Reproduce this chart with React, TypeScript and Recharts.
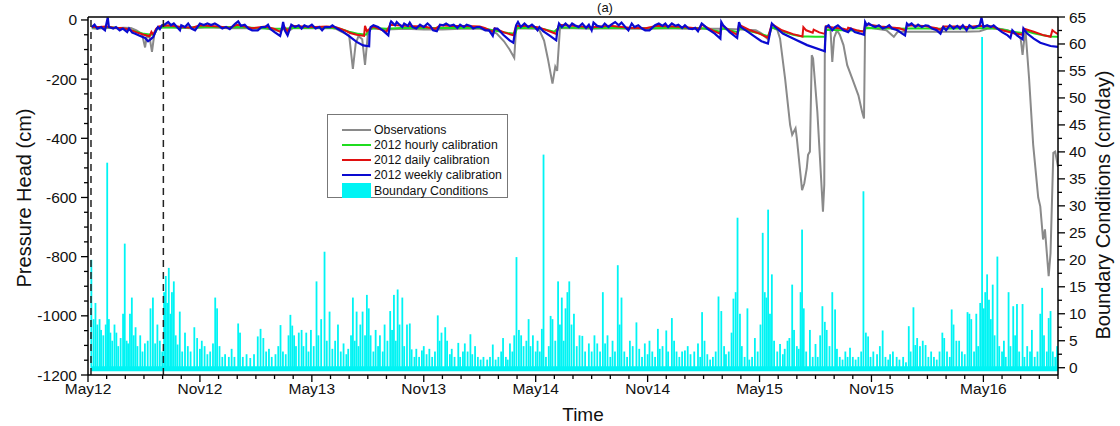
import { ComposedChart, Line, Bar, XAxis, YAxis, ReferenceLine, ReferenceArea } from 'recharts';

const FONT = '"Liberation Sans", Arial, Helvetica, sans-serif';

// x = months counted from 1 May 2012
const xTickLabels = ['May12', 'Nov12', 'May13', 'Nov13', 'May14', 'Nov14', 'May15', 'Nov15', 'May16'];
const monthTicks = Array.from({ length: 53 }, (_, i) => i);
const headTicks = Array.from({ length: 25 }, (_, i) => -1200 + i * 50);
const bcTicks = Array.from({ length: 27 }, (_, i) => i * 2.5);
const calibrationWindow = [0.16, 4.04];

// [month, pressure head cm]
const observations: [number, number][] = [
  [0.2, -28], [0.5, -30], [1.0, -26], [1.5, -28], [1.9, -26], [2.3, -27], [2.6, -35], [2.9, -48], [3.06, -93],
  [3.15, -55], [3.3, -58], [3.43, -108], [3.55, -50], [3.7, -30], [3.85, -25], [4.5, -24], [5.5, -28], [6.5, -25],
  [7.5, -28], [8.5, -28], [9.5, -28], [10.3, -38], [10.5, -28], [10.7, -40], [11.0, -27], [12.0, -28], [13.0, -27],
  [13.3, -30], [13.6, -40], [14.0, -52], [14.2, -165], [14.35, -80], [14.5, -55], [14.7, -65], [14.85, -152],
  [15.0, -50], [15.15, -28], [16.0, -32], [17.0, -30], [18.0, -32], [19.0, -32], [20.0, -30], [21.0, -30],
  [21.4, -35], [21.9, -45], [22.3, -72], [22.6, -100], [22.85, -128], [22.95, -28], [24.0, -30], [24.2, -35],
  [24.45, -70], [24.65, -130], [24.9, -215], [25.05, -158], [25.15, -172], [25.3, -28], [26.0, -28], [27.0, -30],
  [28.0, -28], [29.0, -30], [30.0, -30], [31.0, -28], [32.0, -30], [33.0, -30], [34.0, -30], [35.0, -32],
  [35.8, -35], [36.1, -45], [36.45, -65], [36.66, -25], [36.95, -33], [37.1, -63], [37.37, -198], [37.64, -355],
  [37.75, -388], [37.93, -366], [38.0, -400], [38.28, -575], [38.4, -552], [38.53, -502], [38.6, -456],
  [38.7, -445], [38.8, -119], [38.87, -130], [39.1, -311], [39.3, -535], [39.4, -648], [39.47, -557], [39.5, -85],
  [39.57, -24], [39.8, -28], [39.9, -142], [40.0, -60], [40.15, -35], [40.3, -50], [40.5, -85], [40.7, -153],
  [40.97, -198], [41.3, -255], [41.5, -311], [41.6, -333], [41.66, -24], [42.0, -27], [42.8, -35], [43.2, -57],
  [43.4, -40], [44.0, -40], [45.0, -40], [46.0, -40], [47.0, -40], [47.8, -38], [48.2, -30], [48.7, -28],
  [49.3, -35], [49.8, -50], [50.0, -63], [50.1, -118], [50.25, -30], [50.45, -198], [50.67, -422], [50.94, -600],
  [51.05, -630], [51.2, -742], [51.3, -708], [51.5, -866], [51.6, -788], [51.75, -449], [51.85, -445], [52.0, -496],
];

const hourly: [number, number][] = [
  [0.2, -25], [1.0, -24], [1.8, -28], [2.4, -36], [3.0, -47], [3.4, -50], [3.55, -48], [3.7, -30], [4.0, -25],
  [5.0, -26], [6.0, -24], [7.0, -25], [8.0, -24], [9.0, -27], [10.0, -30], [10.5, -30], [11.0, -27], [12.0, -26],
  [13.0, -26], [13.5, -30], [14.0, -40], [14.5, -47], [14.9, -50], [15.1, -32], [15.3, -27], [16.0, -30],
  [17.0, -26], [18.0, -27], [19.0, -27], [20.0, -26], [21.0, -27], [21.5, -32], [22.0, -38], [22.5, -44],
  [22.9, -47], [23.0, -27], [24.0, -26], [24.5, -32], [25.0, -40], [25.25, -25], [26.0, -26], [27.0, -27],
  [28.0, -26], [29.0, -27], [30.0, -28], [31.0, -27], [32.0, -27], [33.0, -28], [33.9, -40], [34.0, -28],
  [34.85, -42], [34.95, -27], [35.5, -38], [36.0, -46], [36.45, -55], [36.66, -25], [37.3, -40], [37.8, -50],
  [38.3, -56], [38.6, -56], [39.0, -57], [39.5, -57], [39.56, -33], [40.0, -34], [41.0, -36], [41.6, -38],
  [41.7, -27], [42.5, -28], [43.5, -30], [44.5, -28], [45.5, -30], [46.5, -29], [47.5, -28], [48.5, -28],
  [49.0, -32], [49.6, -40], [50.1, -44], [50.15, -35], [50.7, -45], [51.2, -52], [51.6, -56], [52.0, -57],
];

const daily: [number, number][] = [
  [0.2, -24], [0.6, -24], [1.0, -22], [1.4, -26], [1.8, -27], [2.2, -32], [2.6, -42], [3.0, -50], [3.3, -55],
  [3.4, -40], [3.5, -50], [3.65, -30], [3.8, -22], [4.3, -18], [5.0, -24], [5.6, -26], [6.0, -18], [7.0, -22],
  [7.6, -27], [8.0, -16], [8.8, -28], [9.5, -22], [10.0, -30], [10.3, -40], [10.5, -22], [10.7, -38], [10.9, -20],
  [11.5, -22], [12.2, -24], [12.8, -22], [13.3, -25], [13.8, -36], [14.05, -44], [14.4, -50], [14.8, -54],
  [14.85, -20], [14.95, -38], [15.1, -30], [15.3, -22], [15.6, -30], [16.0, -40], [16.2, -16], [17.0, -20],
  [18.0, -22], [18.6, -30], [18.9, -18], [19.5, -20], [20.2, -20], [21.0, -22], [21.3, -28], [21.7, -40],
  [21.8, -28], [22.3, -42], [22.8, -52], [22.95, -20], [23.5, -20], [24.1, -25], [24.4, -30], [24.8, -40],
  [25.1, -47], [25.25, -16], [26.0, -20], [27.0, -25], [28.0, -20], [29.0, -26], [29.9, -28], [30.5, -20],
  [31.5, -22], [32.3, -26], [32.8, -30], [32.9, -16], [33.5, -36], [33.9, -47], [33.95, -16], [34.4, -36],
  [34.8, -50], [34.9, -16], [35.5, -35], [36.0, -46], [36.45, -60], [36.66, -14], [37.2, -35], [37.8, -48],
  [38.3, -56], [38.35, -24], [38.5, -35], [38.85, -43], [38.9, -33], [39.2, -42], [39.5, -47], [39.55, -22],
  [40.0, -26], [40.5, -30], [40.7, -34], [40.75, -26], [41.2, -35], [41.6, -40], [41.66, -14], [42.5, -22],
  [43.5, -28], [43.85, -36], [43.9, -18], [44.8, -20], [45.5, -28], [45.7, -34], [45.85, -22], [46.5, -22],
  [47.2, -24], [47.8, -20], [48.5, -22], [48.9, -33], [49.6, -44], [50.1, -50], [50.15, -29], [50.7, -40],
  [51.25, -52], [51.6, -57], [51.7, -35], [51.8, -40], [52.0, -48],
];

const weekly: [number, number][] = [
  [0.2, -24], [0.35, -16], [0.5, -29], [0.7, -24], [0.91, -35], [1.06, 8], [1.12, -24], [1.35, -29], [1.5, -24],
  [1.7, -35], [1.87, -29], [2.1, -41], [2.2, -29], [2.37, -43], [2.5, -46], [2.8, -54], [3.06, -61], [3.22, -72],
  [3.4, -63], [3.5, -57], [3.65, -35], [3.75, -24], [3.85, -31], [3.97, -18], [4.1, -16], [4.3, -7], [4.45, -18],
  [4.6, -12], [4.77, -24], [4.93, -35], [5.0, -18], [5.2, -24], [5.37, -12], [5.55, -29], [5.74, -35], [6.0, -12],
  [6.2, -17], [6.4, -12], [6.6, -17], [6.8, -12], [7.0, -19], [7.2, -29], [7.4, -24], [7.6, -31], [7.9, -12],
  [8.05, -5], [8.2, -20], [8.4, -16], [8.6, -29], [8.8, -35], [9.1, -35], [9.3, -24], [9.5, -24], [9.65, -16],
  [9.75, -29], [10.0, -41], [10.3, -54], [10.4, -29], [10.46, -7], [10.55, -35], [10.7, -52], [10.9, -16],
  [11.1, -24], [11.3, -18], [11.45, -29], [11.6, -18], [11.8, -24], [12.0, -16], [12.2, -29], [12.4, -24],
  [12.55, -35], [12.7, -24], [12.98, -24], [13.1, -18], [13.35, -29], [13.7, -41], [14.05, -57], [14.4, -74],
  [14.75, -86], [15.07, -89], [15.1, -41], [15.15, -24], [15.3, -18], [15.55, -24], [15.8, -35], [16.1, -52],
  [16.2, -12], [16.25, -5], [16.46, -18], [16.55, -7], [16.7, -16], [16.85, -24], [16.95, -12], [17.15, -20],
  [17.25, -9], [17.4, -24], [17.6, -29], [17.8, -16], [18.0, -24], [18.2, -12], [18.35, -20], [18.5, -35],
  [18.7, -38], [18.87, -16], [19.05, -18], [19.2, -12], [19.4, -20], [19.6, -16], [19.8, -27], [19.95, -16],
  [20.15, -24], [20.3, -16], [20.5, -20], [20.65, -29], [20.85, -24], [21.0, -24], [21.3, -35], [21.5, -35],
  [21.7, -54], [21.8, -29], [21.95, -29], [22.26, -50], [22.6, -69], [22.8, -77], [22.95, -18], [23.05, -7],
  [23.2, -24], [23.4, -12], [23.6, -24], [23.8, -16], [23.95, -24], [24.1, -35], [24.2, -24], [24.4, -38],
  [24.77, -54], [25.1, -69], [25.15, -41], [25.25, -12], [25.4, -24], [25.6, -12], [25.8, -24], [25.95, -12],
  [26.1, -18], [26.3, -24], [26.5, -12], [26.7, -27], [26.85, -16], [27.0, -35], [27.1, -9], [27.3, -20],
  [27.55, -24], [27.7, -12], [27.9, -24], [28.05, -16], [28.26, -7], [28.45, -18], [28.6, -9], [28.8, -24],
  [28.97, -35], [29.15, -12], [29.3, -24], [29.5, -18], [29.7, -29], [29.87, -35], [30.1, -35], [30.4, -18],
  [30.6, -12], [30.8, -20], [30.95, -12], [31.1, -24], [31.3, -12], [31.5, -20], [31.65, -16], [31.85, -27],
  [32.0, -18], [32.2, -29], [32.4, -31], [32.55, -27], [32.7, -38], [32.9, -12], [33.05, -20], [33.2, -29],
  [33.6, -46], [33.9, -63], [33.95, -7], [34.05, -18], [34.4, -41], [34.8, -61], [34.9, -7], [35.0, -24],
  [35.4, -41], [35.76, -57], [36.1, -72], [36.45, -80], [36.66, -12], [36.84, -24], [37.25, -46], [37.8, -63],
  [38.55, -85], [39.5, -106], [39.55, -24], [39.7, -18], [39.9, -35], [40.05, -24], [40.2, -18], [40.5, -35],
  [40.75, -41], [40.9, -29], [41.1, -41], [41.4, -46], [41.6, -50], [41.66, -7], [41.75, -18], [41.85, -12],
  [42.0, -18], [42.2, -24], [42.4, -18], [42.6, -29], [42.8, -24], [42.95, -18], [43.1, -29], [43.4, -35],
  [43.65, -46], [43.8, -52], [43.9, -12], [44.0, -18], [44.15, -12], [44.35, -24], [44.5, -16], [44.7, -24],
  [44.9, -18], [45.05, -20], [45.25, -29], [45.5, -35], [45.7, -46], [45.85, -24], [46.0, -35], [46.2, -18],
  [46.4, -29], [46.6, -20], [46.75, -29], [46.9, -18], [47.1, -35], [47.25, -18], [47.45, -27], [47.6, -24],
  [47.8, -18], [47.9, 8], [48.0, -24], [48.2, -18], [48.4, -24], [48.55, -18], [48.75, -29], [49.0, -41],
  [49.3, -52], [49.45, -61], [49.55, -35], [49.8, -52], [50.1, -65], [50.15, -29], [50.35, -46], [50.7, -63],
  [51.05, -77], [51.6, -88], [52.0, -91],
];

// [month, boundary flux cm/day]
const boundarySpikes: [number, number][] = [
  [0.18, 20], [0.3, 9], [0.4, 12], [0.5, 8], [0.62, 9], [0.7, 7], [0.82, 6], [0.95, 8], [1.03, 38], [1.12, 9],
  [1.2, 6.5], [1.3, 5], [1.42, 8], [1.52, 6.5], [1.62, 4], [1.75, 5.5], [1.88, 10], [1.97, 23], [2.07, 5],
  [2.15, 4.5], [2.25, 10], [2.35, 13], [2.45, 6], [2.55, 7.5], [2.65, 4], [2.8, 6], [2.92, 3], [3.05, 4.5],
  [3.2, 5], [3.35, 11], [3.48, 13], [3.6, 4.5], [3.72, 8], [3.85, 5], [3.98, 3], [4.08, 14], [4.17, 17],
  [4.25, 12], [4.33, 18.5], [4.42, 10], [4.5, 14], [4.6, 16], [4.7, 6], [4.8, 4.3], [4.92, 10.4], [5.05, 3],
  [5.2, 6.5], [5.35, 4], [5.5, 3], [5.7, 7.5], [5.85, 5.5], [6.0, 3.5], [6.1, 5], [6.25, 4], [6.4, 2.5], [6.55, 3],
  [6.7, 4.5], [6.82, 13], [6.92, 11], [7.05, 4], [7.2, 2], [7.35, 2.5], [7.55, 2], [7.7, 3.5], [7.85, 2],
  [8.05, 8.2], [8.15, 6.5], [8.3, 2], [8.5, 2.5], [8.7, 1.8], [8.9, 2.5], [9.1, 5.8], [9.25, 7.2], [9.4, 5.5],
  [9.55, 3], [9.7, 3.5], [9.85, 2], [10.05, 2.5], [10.2, 4], [10.32, 7.9], [10.45, 3], [10.6, 2.5], [10.75, 6],
  [10.85, 9.8], [10.95, 7.8], [11.05, 6], [11.15, 4], [11.3, 6.5], [11.45, 7], [11.55, 4], [11.7, 6.5],
  [11.82, 3], [11.95, 7], [12.1, 4], [12.25, 16], [12.35, 6], [12.5, 9], [12.68, 21.5], [12.8, 5], [12.95, 10.4],
  [13.1, 3.5], [13.25, 5], [13.4, 8], [13.55, 3], [13.7, 4.5], [13.85, 2.5], [13.95, 3.5], [14.1, 6], [14.2, 13],
  [14.3, 5], [14.4, 10.4], [14.5, 4], [14.6, 8], [14.72, 10.4], [14.85, 6], [14.95, 13.5], [15.05, 11],
  [15.15, 6], [15.3, 3], [15.42, 7], [15.55, 4], [15.65, 6], [15.8, 3], [15.9, 8], [16.05, 5], [16.2, 10.5],
  [16.3, 7], [16.4, 13.5], [16.5, 5], [16.6, 14.5], [16.7, 8], [16.85, 13], [16.95, 4], [17.1, 8], [17.25, 8.2],
  [17.35, 3.4], [17.5, 2], [17.6, 3.5], [17.75, 2], [17.9, 3.2], [18.0, 4], [18.15, 2.5], [18.3, 3.5],
  [18.45, 2], [18.6, 3], [18.75, 9.7], [18.85, 5], [18.95, 6.5], [19.15, 7.5], [19.25, 5], [19.4, 2.5],
  [19.5, 3.5], [19.65, 2], [19.85, 4.6], [19.95, 2], [20.1, 3], [20.2, 4.5], [20.35, 3], [20.5, 6.2], [20.6, 2.5],
  [20.75, 4], [20.9, 2], [21.05, 1.5], [21.2, 2], [21.4, 1.5], [21.55, 2], [21.7, 4.3], [21.85, 1.5], [22.0, 2],
  [22.15, 3], [22.25, 5.5], [22.4, 2], [22.5, 1.5], [22.62, 4.5], [22.75, 3], [22.85, 6], [22.97, 20.5],
  [23.1, 7], [23.22, 6], [23.35, 4], [23.5, 5], [23.62, 9], [23.72, 4], [23.85, 6], [24.0, 3], [24.1, 5],
  [24.22, 3], [24.33, 7.2], [24.42, 39.5], [24.55, 2], [24.7, 4], [24.8, 9.6], [24.9, 9], [25.05, 5], [25.2, 16],
  [25.3, 8], [25.4, 13], [25.5, 5], [25.6, 11], [25.7, 14], [25.8, 16], [25.92, 8], [26.05, 10], [26.2, 4],
  [26.35, 6], [26.5, 5.9], [26.65, 3], [26.85, 4.5], [27.0, 3], [27.15, 6], [27.3, 4.5], [27.45, 3], [27.6, 14],
  [27.72, 4.5], [27.85, 6], [28.0, 2], [28.12, 5], [28.25, 3], [28.4, 19], [28.5, 8], [28.6, 13], [28.75, 3],
  [28.9, 2], [29.05, 5], [29.2, 4], [29.4, 8.4], [29.55, 3.5], [29.7, 2], [29.85, 4.5], [30.0, 2.5], [30.1, 5],
  [30.25, 3], [30.4, 2], [30.55, 7.2], [30.65, 3.5], [30.8, 4], [31.0, 6.9], [31.1, 3], [31.3, 9.2], [31.42, 5],
  [31.55, 3], [31.7, 2], [31.85, 3], [32.0, 3.2], [32.15, 4], [32.3, 2.5], [32.5, 3], [32.7, 4.5], [32.82, 2],
  [32.92, 10.3], [33.05, 5], [33.2, 2.5], [33.35, 1.5], [33.5, 2], [33.65, 3], [33.8, 13.2], [33.95, 10.5],
  [34.1, 4], [34.2, 2.5], [34.35, 3], [34.5, 6.5], [34.6, 12.8], [34.72, 14], [34.82, 27.8], [34.95, 10],
  [35.05, 4], [35.2, 2], [35.35, 11], [35.45, 1.5], [35.6, 2], [35.75, 5.5], [35.9, 3], [36.05, 8], [36.17, 25],
  [36.28, 14], [36.37, 13], [36.46, 29.3], [36.56, 10], [36.66, 17.3], [36.78, 5], [36.95, 3], [37.1, 4.4],
  [37.25, 2.5], [37.35, 3.5], [37.5, 5], [37.6, 5.5], [37.75, 15.4], [37.85, 7], [38.0, 4], [38.1, 3.5],
  [38.2, 14], [38.28, 25.6], [38.37, 11], [38.5, 3], [38.7, 7], [38.85, 2], [39.0, 4.4], [39.12, 2], [39.25, 6],
  [39.37, 11.4], [39.5, 8.5], [39.6, 7], [39.75, 4], [39.9, 14], [40.05, 10.8], [40.15, 3.5], [40.3, 2],
  [40.45, 1.5], [40.6, 3], [40.72, 2], [40.85, 3.7], [41.0, 2], [41.15, 1.5], [41.3, 2], [41.45, 3], [41.57, 32.7],
  [41.7, 6.5], [41.82, 5.8], [41.95, 2], [42.1, 3], [42.3, 2.5], [42.45, 4], [42.6, 6.9], [42.75, 2], [42.9, 1.5],
  [43.0, 2.5], [43.15, 3], [43.35, 2], [43.5, 1.5], [43.7, 2], [43.85, 1], [44.0, 7.7], [44.1, 3], [44.25, 11.2],
  [44.35, 4.2], [44.45, 5.5], [44.6, 4], [44.75, 5], [44.9, 4.2], [45.05, 2], [45.2, 3], [45.35, 2], [45.5, 1.5],
  [45.65, 3], [45.8, 6.5], [45.9, 5.5], [46.05, 3], [46.2, 2], [46.3, 10.8], [46.4, 8], [46.55, 5], [46.7, 5],
  [46.85, 3], [47.0, 2.5], [47.15, 10.3], [47.25, 10], [47.35, 9], [47.5, 3], [47.62, 10], [47.72, 4],
  [47.83, 12], [47.93, 61.3], [48.02, 11], [48.1, 14], [48.2, 17.3], [48.3, 12.6], [48.4, 9], [48.5, 15.4],
  [48.6, 6], [48.75, 20.6], [48.85, 4], [49.0, 3], [49.1, 5], [49.2, 2], [49.35, 14], [49.45, 4], [49.6, 11.4],
  [49.7, 6], [49.8, 11.8], [49.92, 3], [50.1, 11.8], [50.2, 2], [50.35, 4], [50.5, 3], [50.6, 7], [50.75, 2],
  [50.9, 3], [51.05, 10], [51.15, 14.8], [51.25, 6], [51.4, 3], [51.5, 9.2], [51.6, 10.5], [51.72, 3], [51.85, 2],
  [51.95, 4],
];

const legendItems = [
  { label: 'Observations', color: '#8a8a8a' },
  { label: '2012 hourly calibration', color: '#1fdc1f' },
  { label: '2012 daily calibration', color: '#e01010' },
  { label: '2012 weekly calibration', color: '#0a0ad0' },
];

const pts = (arr: [number, number][]) => arr.map(([m, v]) => ({ m, v }));

const XTick = ({ x, y, payload }: any) => {
  const major = payload.value % 6 === 0;
  return (
    <g>
      <line x1={x} x2={x} y1={y} y2={y + (major ? 7 : 4)} stroke="#000" strokeWidth={1.3} />
      {major && (
        <text x={x} y={y + 19} textAnchor="middle" fontSize={15.5} fontFamily={FONT} fill="#111">
          {xTickLabels[payload.value / 6]}
        </text>
      )}
    </g>
  );
};

const LeftTick = ({ x, y, payload }: any) => {
  const major = payload.value % 200 === 0;
  return (
    <g>
      <line x1={x} x2={x - (major ? 7 : 4)} y1={y} y2={y} stroke="#000" strokeWidth={1.3} />
      {major && (
        <text x={x - 11} y={y + 5.5} textAnchor="end" fontSize={15.5} fontFamily={FONT} fill="#111">
          {payload.value}
        </text>
      )}
    </g>
  );
};

const RightTick = ({ x, y, payload }: any) => {
  const major = payload.value % 5 === 0;
  return (
    <g>
      <line x1={x} x2={x + (major ? 7 : 4)} y1={y} y2={y} stroke="#000" strokeWidth={1.3} />
      {major && (
        <text x={x + 11} y={y + 5.5} textAnchor="start" fontSize={15.5} fontFamily={FONT} fill="#111">
          {payload.value}
        </text>
      )}
    </g>
  );
};

// thin spike centred on the bar's slot
const Spike = (p: any) =>
  p.height > 0 ? <rect x={p.x + p.width / 2 - 0.9} y={p.y} width={1.8} height={p.height} fill="#00f4f4" /> : null;

export default function App() {
  const bcData = boundarySpikes.map(([m, v]) => ({ m, bc: v }));

  return (
    <div style={{ position: 'relative', width: 1120, height: 426, fontFamily: FONT, background: '#fff' }}>
      <style>{'body{margin:0}'}</style>
      <ComposedChart width={1120} height={426} data={bcData} margin={{ top: 17, right: 0, bottom: 0, left: 0 }}>
        <XAxis
          dataKey="m"
          type="number"
          domain={[0, 52]}
          allowDataOverflow
          ticks={monthTicks}
          interval={0}
          tickSize={0}
          tickMargin={0}
          tickLine={false}
          tick={(p: any) => <XTick {...p} />}
          height={51}
          axisLine={{ stroke: '#000', strokeWidth: 1.5 }}
        />
        <YAxis
          yAxisId="left"
          type="number"
          domain={[-1200, 10]}
          allowDataOverflow
          ticks={headTicks}
          interval={0}
          width={88}
          tickSize={0}
          tickMargin={0}
          tickLine={false}
          tick={(p: any) => <LeftTick {...p} />}
          axisLine={{ stroke: '#000', strokeWidth: 1.5 }}
        />
        <YAxis
          yAxisId="right"
          orientation="right"
          type="number"
          domain={[-1.35, 65]}
          allowDataOverflow
          ticks={bcTicks}
          interval={0}
          width={62}
          tickSize={0}
          tickMargin={0}
          tickLine={false}
          tick={(p: any) => <RightTick {...p} />}
          axisLine={{ stroke: '#000', strokeWidth: 1.5 }}
        />
        <ReferenceArea yAxisId="right" x1={calibrationWindow[0]} x2={52} y1={-0.65} y2={0.25} fill="#00f4f4" fillOpacity={1} stroke="none" />
        <Bar yAxisId="right" dataKey="bc" fill="#00f4f4" shape={Spike} isAnimationActive={false} />
        <Line yAxisId="left" data={pts(observations)} dataKey="v" stroke="#8a8a8a" strokeWidth={2} dot={false} isAnimationActive={false} />
        <Line yAxisId="left" data={pts(hourly)} dataKey="v" stroke="#1fdc1f" strokeWidth={2} dot={false} isAnimationActive={false} />
        <Line yAxisId="left" data={pts(daily)} dataKey="v" stroke="#e01010" strokeWidth={2} dot={false} isAnimationActive={false} />
        <Line yAxisId="left" data={pts(weekly)} dataKey="v" stroke="#0a0ad0" strokeWidth={2.2} dot={false} isAnimationActive={false} />
        {calibrationWindow.map((m) => (
          <ReferenceLine key={m} yAxisId="left" x={m} stroke="#222" strokeWidth={1.5} strokeDasharray="7 5" />
        ))}
        <ReferenceLine yAxisId="left" y={10} stroke="#000" strokeWidth={1.5} />
      </ComposedChart>

      <svg width={1120} height={426} style={{ position: 'absolute', left: 0, top: 0, pointerEvents: 'none' }}>
        <text x={605} y={12} textAnchor="middle" fontSize={13} fontFamily={FONT} fill="#111">(a)</text>
        <text x={24} y={198} transform="rotate(-90 24 198)" textAnchor="middle" dominantBaseline="central" fontSize={20} fontFamily={FONT} fill="#111">
          Pressure Head (cm)
        </text>
        <text x={1103} y={205} transform="rotate(-90 1103 205)" textAnchor="middle" dominantBaseline="central" fontSize={20} fontFamily={FONT} fill="#111">
          Boundary Conditions (cm/day)
        </text>
        <text x={583} y={414} textAnchor="middle" dominantBaseline="central" fontSize={19} fontFamily={FONT} fill="#111">
          Time
        </text>
      </svg>

      <div
        style={{
          position: 'absolute', left: 327, top: 114, width: 179, height: 82,
          border: '1px solid #777', background: '#fff', fontSize: 12.3, color: '#111',
        }}
      >
        {legendItems.map((it, i) => (
          <div key={it.label} style={{ position: 'absolute', left: 14, top: 7 + i * 15.3, height: 15, display: 'flex', alignItems: 'center' }}>
            <span style={{ display: 'inline-block', width: 29, height: 2, background: it.color, marginRight: 3 }} />
            <span>{it.label}</span>
          </div>
        ))}
        <div style={{ position: 'absolute', left: 14, top: 68, height: 15, display: 'flex', alignItems: 'center' }}>
          <span style={{ display: 'inline-block', width: 29, height: 15, background: '#00f4f4', marginRight: 3 }} />
          <span>Boundary Conditions</span>
        </div>
      </div>
    </div>
  );
}
